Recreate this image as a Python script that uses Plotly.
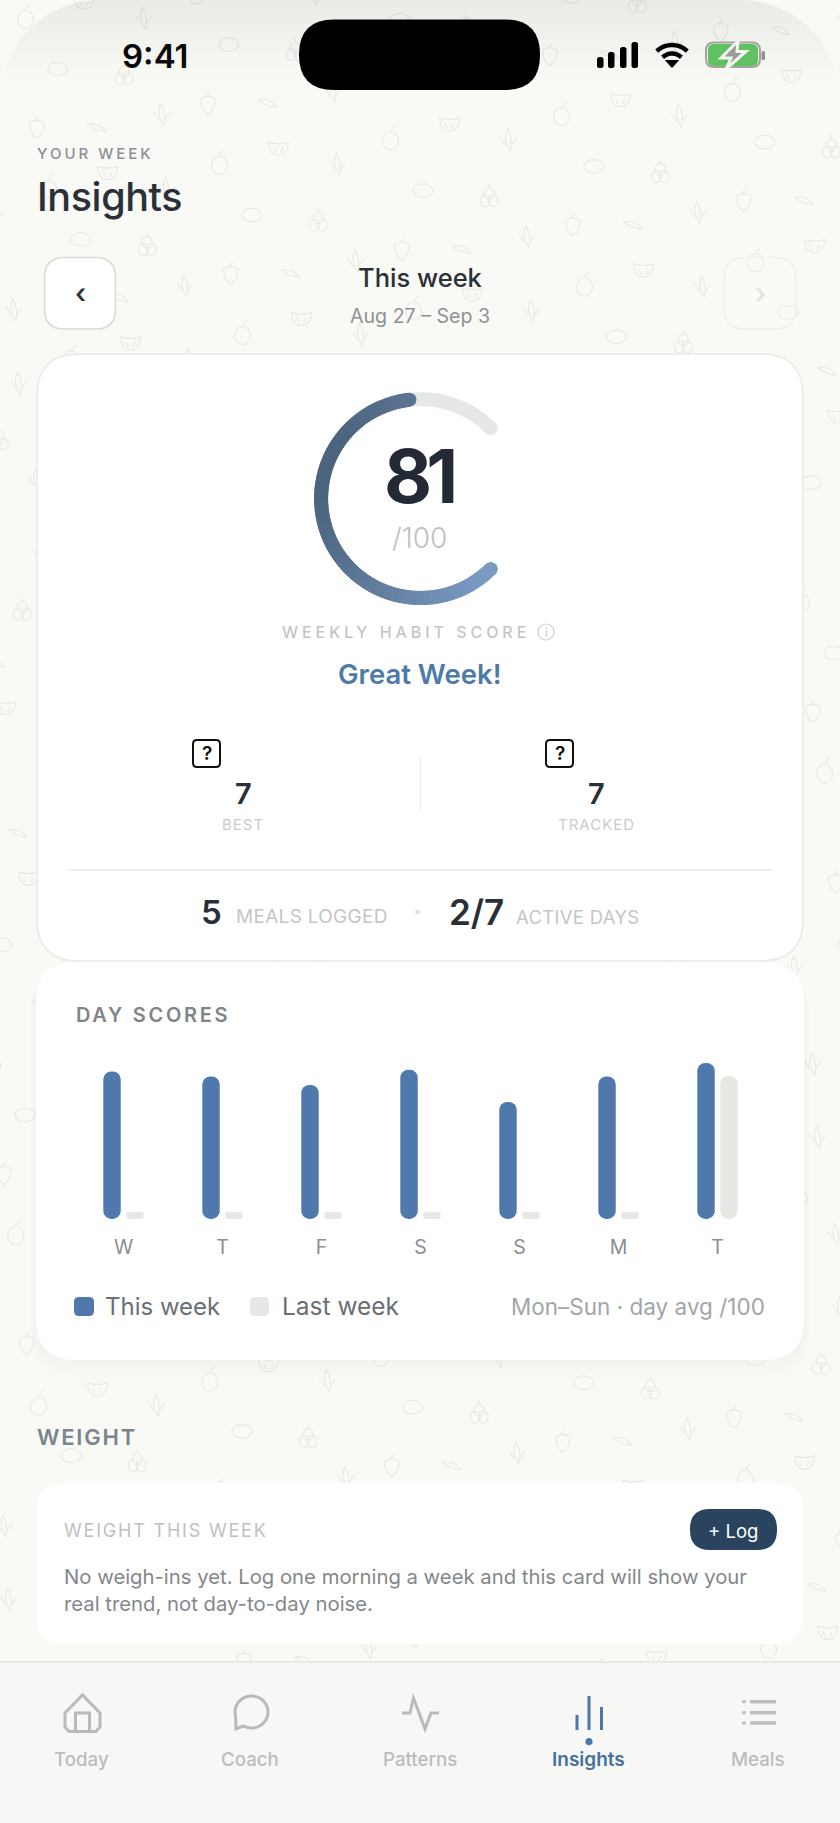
import numpy as np
import plotly.graph_objects as go

W, H = 840, 1823

# chart data
days = ["W", "T", "F", "S", "S", "M", "T"]
this_week = [87, 84, 79, 88, 69, 84, 92]
last_week = [4.5, 4.5, 4.5, 4.5, 4.5, 4.5, 84.5]
score = 81
score_max = 100

BG = "#f9f9f6"
BLUE = "#4f79ac"
GREY_BAR = "#e6e8e5"
DARK = "#2a2f38"
FONT = "Inter"

shapes = []
notes = []


def ell(cx, cy, rx, ry):
    k = 0.5523
    return (f"M{cx-rx:.1f},{cy:.1f} C{cx-rx:.1f},{cy-k*ry:.1f} {cx-k*rx:.1f},{cy-ry:.1f} {cx:.1f},{cy-ry:.1f} "
            f"C{cx+k*rx:.1f},{cy-ry:.1f} {cx+rx:.1f},{cy-k*ry:.1f} {cx+rx:.1f},{cy:.1f} "
            f"C{cx+rx:.1f},{cy+k*ry:.1f} {cx+k*rx:.1f},{cy+ry:.1f} {cx:.1f},{cy+ry:.1f} "
            f"C{cx-k*rx:.1f},{cy+ry:.1f} {cx-rx:.1f},{cy+k*ry:.1f} {cx-rx:.1f},{cy:.1f} Z ")


def rrect(x0, y0, x1, y1, r):
    return (f"M{x0+r},{y0} L{x1-r},{y0} Q{x1},{y0} {x1},{y0+r} L{x1},{y1-r} Q{x1},{y1} {x1-r},{y1} "
            f"L{x0+r},{y1} Q{x0},{y1} {x0},{y1-r} L{x0},{y0+r} Q{x0},{y0} {x0+r},{y0} Z")


def poly(pts, close=False):
    s = "M" + " L".join(f"{x:.1f},{y:.1f}" for x, y in pts)
    return s + (" Z " if close else " ")


def add_path(path, fill=None, line=None, width=0, layer="below"):
    shapes.append(dict(type="path", path=path, xref="x", yref="y", layer=layer,
                       fillcolor=fill or "rgba(0,0,0,0)",
                       line=dict(color=line or "rgba(0,0,0,0)", width=width)))


def text(x, y, s, size, color, weight=400, anchor="center", spacing=None):
    if spacing is not None:
        s = f'<span style="letter-spacing:{spacing}px">{s}</span>'
    notes.append(dict(x=x, y=y, xref="x", yref="y", text=s, showarrow=False, xanchor=anchor, yanchor="middle",
                      align=anchor, borderpad=0,
                      font=dict(family=FONT, size=size, color=color, weight=weight)))


# fruit doodles, they sit on a lattice
def g_circle(x, y):
    return ell(x, y, 10, 6.8)


def g_orange(x, y):
    return ell(x, y + 2, 8, 9) + f"M{x},{y-7} Q{x+1},{y-11} {x+5},{y-13} "


def g_straw(x, y):
    return (f"M{x-7},{y-5} Q{x},{y-9} {x+7},{y-5} Q{x+8},{y+5} {x},{y+11} Q{x-8},{y+5} {x-7},{y-5} Z "
            f"M{x-2},{y-7} L{x+2},{y-11} ")


def g_leaf(x, y):
    return f"M{x-9},{y-3} Q{x+2},{y-6} {x+9},{y+4} Q{x-2},{y+3} {x-9},{y-3} Z "


def g_sprig(x, y):
    return (f"M{x-1},{y-11} Q{x-6},{y} {x+2},{y+11} Q{x+5},{y} {x-1},{y-11} Z "
            f"M{x-8},{y-3} L{x-3},{y+5} M{x+8},{y-2} L{x+3},{y+5} ")


def g_melon(x, y):
    return (f"M{x-10},{y-6} Q{x},{y-3} {x+10},{y-6} Q{x+9},{y+7} {x},{y+7} Q{x-9},{y+7} {x-10},{y-6} Z "
            f"M{x-5},{y-1} L{x-2},{y+4} M{x+5},{y-1} L{x+2},{y+4} ")


def g_cherry(x, y):
    return (ell(x - 4, y + 4, 5, 6) + ell(x + 4, y + 4, 5, 6) + ell(x, y - 3, 5, 6)
            + f"M{x},{y-9} L{x},{y-13} ")


doodle_bases = [
    (g_circle, 57.8, 69), (g_orange, 219.6, 163.3), (g_straw, 207.8, 103.3), (g_leaf, 267.8, 103.3),
    (g_sprig, 161.8, 115), (g_sprig, 337.4, 164.3), (g_melon, 278.5, 148.3), (g_cherry, 124.3, 75),
]
doodles = ""
for glyph, bx, by in doodle_bases:
    for i in range(-12, 13):
        for j in range(-6, 14):
            px = bx + i * 171 + j * 23
            py = by - i * 24.3 + j * 170.3
            if -20 < px < W + 20 and -20 < py < 1675:
                doodles += glyph(round(px, 1), round(py, 1))
add_path(doodles, line="#e8e8e4", width=1.1)


# grey fade at the top of the screen
def dome(h, r=100):
    xs = r - np.sqrt(r ** 2 - (r - h) ** 2)
    ang = np.linspace(np.arctan2(r - h, r - xs), np.pi / 2, 14)
    left = [(r - r * np.cos(a), r - r * np.sin(a)) for a in ang]
    right = [(W - x, y) for x, y in reversed(left)]
    return poly(left + right, close=True)


for h in np.linspace(8, 78, 14):
    add_path(dome(h), fill="rgba(115,115,110,0.0075)")

# nav bar
add_path(rrect(0, 1662, W, H + 5, 0), fill="#f7f8f5")
add_path(poly([(0, 1662), (W, 1662)]), line="#e9e9e6", width=2)

# card shadows
for k in range(7):
    add_path(rrect(36 - k, 964 + k, 804 + k, 1360 + 3 * k, 40 + k), fill="rgba(90,90,85,0.006)")

# cards
add_path(rrect(37, 354, 803, 961, 42), fill="#ffffff", line="#e9e9e6", width=1.5)
add_path(rrect(36, 962, 804, 1360, 40), fill="#ffffff")
add_path(rrect(36.5, 1483, 803, 1644, 28), fill="#ffffff")

# nav buttons in header
add_path(rrect(44.5, 257.5, 115.5, 329, 20), fill="#ffffff", line="#d9d9d6", width=1.5)
add_path(rrect(724.5, 257.5, 795.5, 329, 20), fill="rgba(255,255,255,0.2)", line="#efefeb", width=1.5)

# status bar
add_path(rrect(299, 19.5, 540, 90, 35), fill="#000000")
for bx, top in zip([597, 608, 620, 631.5], [57, 52, 47, 42]):
    add_path(rrect(bx, top, bx + 6.5, 68, 2.5), fill="#000000")
wifi_c = (672, 67)
for r in [22, 13.5]:
    a = np.radians(np.linspace(-134, -46, 16))
    add_path(poly([(wifi_c[0] + r * np.cos(t), wifi_c[1] + r * np.sin(t)) for t in a]), line="#000000", width=4.4)
add_path(poly([(665.5, 60.5), (678.5, 60.5), (672, 67.5)], close=True), fill="#000000", line="#000000", width=1)
add_path(rrect(708, 44, 758, 66, 6), fill="#5fc160")
add_path(rrect(706, 42.5, 760, 67, 8), line="#a3a3a1", width=2)
add_path(rrect(761.5, 51, 765, 60, 1.5), fill="#8f8f8d")
bolt = [(738, 41), (721, 58), (731, 58), (726, 69), (746, 51.5), (737, 51.5)]
add_path(poly(bolt, close=True), fill="#9a9a98", line="#f4f6f2", width=3)

# score card bits
add_path(ell(546, 632, 8, 8), line="#cfcfcf", width=1.2)
add_path(rrect(193, 740, 220, 767, 4), line="#111111", width=2)
add_path(rrect(546, 740, 573, 767, 4), line="#111111", width=2)
add_path(poly([(420.5, 757), (420.5, 810)]), line="#ececea", width=1.2)
add_path(poly([(69, 870), (772, 870)]), line="#e8e8e6", width=1.5)
add_path(ell(417.5, 912, 2.5, 2.5), fill="#e3e3e0")

# legend swatches
add_path(rrect(74, 1297, 94, 1316, 5), fill=BLUE)
add_path(rrect(250, 1297, 269, 1316, 5), fill=GREY_BAR)

# weight card button
add_path(rrect(690, 1509, 777, 1550, 20), fill="#2a4460")

# tab bar icons
icon = "#bababa"
add_path(poly([(65, 1713), (82.5, 1695), (100, 1713), (100, 1727), (96, 1731.5), (69, 1731.5), (65, 1727)], close=True),
         line=icon, width=3)
add_path(poly([(75.5, 1731), (75.5, 1713), (89.5, 1713), (89.5, 1731)]), line=icon, width=3)
bubble = [(251.5 + 16.5 * np.cos(t), 1712 + 16 * np.sin(t)) for t in np.radians(np.linspace(165, 480, 44))]
bubble = bubble + [(236, 1729)]
add_path(poly(bubble, close=True), line=icon, width=3)
add_path(poly([(402, 1713), (410, 1713), (413.5, 1698), (425, 1729), (431, 1713), (439, 1713)]), line=icon, width=3)
act = "#4a76a8"
for ix, top in zip([577, 589, 601.5], [1715, 1696, 1707]):
    add_path(poly([(ix, top), (ix, 1730)]), line=act, width=3)
add_path(ell(589, 1741.7, 3.6, 3.6), fill=act)
for ly in [1701.7, 1712.7, 1723]:
    add_path(poly([(742, ly), (746, ly)]), line="#c4c4c2", width=3)
    add_path(poly([(750, ly), (776, ly)]), line="#bdbdbb", width=3.5)

# texts
text(155.5, 56, "9:41", 33, "#0a0a0a", 600)
text(35.5, 153.5, "YOUR WEEK", 15, "#8b9094", 500, "left", 3)
text(36, 197, "Insights", 39.5, DARK, 500, "left", -0.4)
text(80, 293, "‹", 27, "#30343a", 600)
text(760, 293, "›", 27, "#e2e2de", 600)
text(419.5, 277, "This week", 25.5, DARK, 500)
text(419.5, 315.5, "Aug 27 – Sep 3", 19.6, "#8f9295", 400)

text(418.5, 476, "81", 74, "#242a35", 700, spacing=-6)
text(419.5, 537.5, "/100", 28, "#c0c0c0", 300)
text(406, 632, "WEEKLY HABIT SCORE", 16, "#c5c5c5", 500, spacing=3.95)
text(546, 632, "i", 12, "#c8c8c8", 400)
text(419.5, 674, "Great Week!", 27.5, "#4e7aa8", 600)
text(206.5, 753, "?", 19, "#111111", 600)
text(559.5, 753, "?", 19, "#111111", 600)
text(243, 793, "7", 29, "#2b2f36", 600)
text(596, 793, "7", 29, "#2b2f36", 600)
text(242.5, 824, "BEST", 15, "#cbcbcb", 400, spacing=1)
text(596, 824, "TRACKED", 15, "#cbcbcb", 400, spacing=1)
text(211, 912, "5", 33, "#2a2f36", 600)
text(234.5, 916.5, "MEALS LOGGED", 19, "#c5c5c5", 400, "left", 0.3)
text(448, 912, "2/7", 35, "#2a2f36", 600, "left")
text(515, 916.5, "ACTIVE DAYS", 18.5, "#c5c5c5", 400, "left", 0.3)

text(75, 1015, "DAY SCORES", 20, "#7f8589", 600, "left", 2.7)
text(103.5, 1306, "This week", 24, "#6a6f74", 400, "left")
text(281, 1306, "Last week", 24.5, "#6a6f74", 400, "left")
text(766, 1306, "Mon–Sun · day avg /100", 22.5, "#a2a5a7", 400, "right")

text(36, 1437, "WEIGHT", 22, "#7b858d", 600, "left", 1.8)
text(63, 1530, "WEIGHT THIS WEEK", 18, "#bfc0bf", 400, "left", 1.8)
text(733, 1530.5, "+ Log", 18.5, "#ffffff", 400)
text(63, 1576.5, "No weigh-ins yet. Log one morning a week and this card will show your", 20.3, "#84878a", 400, "left")
text(63, 1603.5, "real trend, not day-to-day noise.", 20.3, "#84878a", 400, "left")

for nx, name in zip([81.5, 249.5, 419.5, 757.5], ["Today", "Coach", "Patterns", "Meals"]):
    text(nx, 1759, name, 18.7, "#bcbcbc", 500)
text(588.5, 1759, "Insights", 19, "#44709e", 600)

fig = go.Figure()
# base axis is just page pixels
fig.add_trace(go.Scatter(x=[0], y=[0], mode="markers", opacity=0, hoverinfo="skip", showlegend=False))


def pill_bars(xs, ys, color, radius):
    # a small base makes plotly round both ends of the bar
    fig.add_trace(go.Bar(x=xs, y=[v - 0.2 for v in ys], base=[0.2] * len(ys), width=bar_w, xaxis="x2", yaxis="y2",
                         marker=dict(color=color, cornerradius=radius, line=dict(width=0)),
                         showlegend=False, hoverinfo="skip"))


bar_w = 0.176
shift = 0.116
pos = list(range(len(days)))
pill_bars([p - shift for p in pos], this_week, BLUE, 8.7)
tall = [p for p in pos if last_week[p] > 10]
small = [p for p in pos if last_week[p] <= 10]
pill_bars([p + shift for p in tall], [last_week[p] for p in tall], GREY_BAR, 8.7)
pill_bars([p + shift for p in small], [last_week[p] for p in small], GREY_BAR, 4)

# score ring, unit circle on its own axis
ring_in, ring_out = 0.93, 1.07
cap = (ring_out - ring_in) / 2


def ang(f):
    return np.radians(-45 - 270 * f)


def band(f0, f1, n=6):
    t = ang(np.linspace(f0, f1, n))
    return (np.r_[ring_out * np.cos(t), ring_in * np.cos(t[::-1])],
            np.r_[ring_out * np.sin(t), ring_in * np.sin(t[::-1])])


def blob(f):
    c = np.linspace(0, 2 * np.pi, 24)
    return np.cos(ang(f)) + cap * np.cos(c), np.sin(ang(f)) + cap * np.sin(c)


def ring_piece(px, py, color):
    fig.add_trace(go.Scatter(x=px, y=py, mode="lines", fill="toself", fillcolor=color,
                             line=dict(color=color, width=0), xaxis="x3", yaxis="y3",
                             showlegend=False, hoverinfo="skip"))


def grad(f):
    t = ang(f)
    v = (1.2 * np.cos(t) - 0.4 * np.sin(t) + 1.26) / 2.52
    c0, c1 = np.array([76, 100, 126]), np.array([127, 159, 200])
    c = c0 + (c1 - c0) * np.clip(v, 0, 1)
    return f"rgb({int(c[0])},{int(c[1])},{int(c[2])})"


ring_piece(*band(0, 1, 90), GREY_BAR)
ring_piece(*blob(0), GREY_BAR)
ring_piece(*blob(1), GREY_BAR)
filled = score / score_max
steps = np.linspace(0, filled, 61)
ring_piece(*blob(0), grad(0))
ring_piece(*blob(filled), grad(filled))
# each piece runs on under the next one so no seams show
for f0, f1 in zip(steps[:-1], steps[1:]):
    ring_piece(*band(f0, min(f1 + 0.012, filled), 5), grad((f0 + f1) / 2))

off = dict(visible=False, fixedrange=True)
ring_cx, ring_cy, ring_r = 420.5, 498.6, 99.5
span = 1.2
fig.update_layout(
    width=W, height=H, margin=dict(l=0, r=0, t=0, b=0),
    paper_bgcolor=BG, plot_bgcolor="rgba(0,0,0,0)",
    showlegend=False, barmode="overlay", shapes=shapes, annotations=notes,
    xaxis=dict(range=[0, W], domain=[0, 1], **off),
    yaxis=dict(range=[H, 0], domain=[0, 1], **off),
    xaxis2=dict(domain=[74 / W, 767 / W], range=[-0.5, 6.5], anchor="y2", tickmode="array", tickvals=pos,
                ticktext=days, showgrid=False, zeroline=False, showline=False, ticks="outside", ticklen=10,
                tickcolor="rgba(0,0,0,0)", tickfont=dict(family=FONT, size=19.5, color="#8a8e92"), fixedrange=True),
    yaxis2=dict(domain=[1 - 1219.3 / H, 1 - 1049.3 / H], range=[0, 100], anchor="x2", **off),
    xaxis3=dict(domain=[(ring_cx - span * ring_r) / W, (ring_cx + span * ring_r) / W], range=[-span, span],
                anchor="y3", **off),
    yaxis3=dict(domain=[1 - (ring_cy + span * ring_r) / H, 1 - (ring_cy - span * ring_r) / H], range=[-span, span],
                anchor="x3", **off),
)
fig.write_html("out.html", config=dict(displayModeBar=False),
               post_script="document.body.style.margin='0';document.body.style.overflow='hidden';")
